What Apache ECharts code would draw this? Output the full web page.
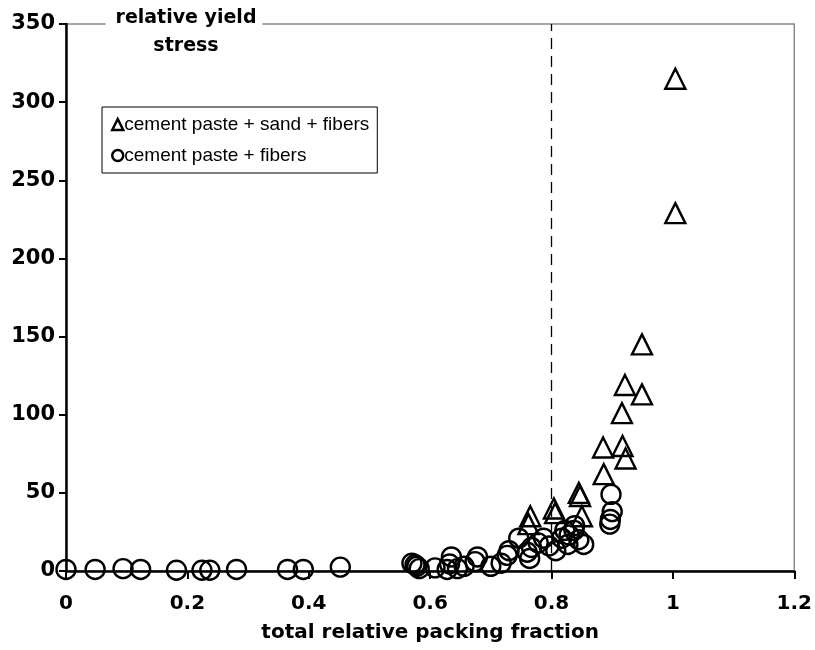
<!DOCTYPE html>
<html><head><meta charset="utf-8">
<script src="https://cdn.jsdelivr.net/npm/echarts@6/dist/echarts.min.js"></script>
<style>html,body{margin:0;padding:0;background:#fff}#c{width:815px;height:650px}</style>
</head><body><div id="c"></div>
<script>
const sandFibers = [
  [0.765, 35], [0.762, 30], [0.804, 40], [0.806, 37], [0.845, 50], [0.847, 48],
  [0.850, 35], [0.886, 62], [0.885, 79], [0.917, 80], [0.922, 72], [0.916, 101],
  [0.921, 119], [0.949, 145], [0.949, 113], [1.004, 229], [1.004, 315]
];
const pasteFibers = [
  [0, 1], [0.048, 1], [0.094, 1.5], [0.123, 1], [0.182, 0.5], [0.224, 0.5], [0.237, 0.5],
  [0.281, 1], [0.365, 1], [0.391, 1], [0.452, 2.5],
  [0.57, 5], [0.575, 4], [0.578, 3], [0.582, 1.5], [0.608, 2], [0.628, 1], [0.632, 4.5],
  [0.635, 9], [0.645, 1.5], [0.656, 3], [0.674, 6], [0.678, 9], [0.70, 3], [0.717, 5],
  [0.727, 10], [0.73, 13], [0.746, 21], [0.76, 12], [0.764, 8], [0.767, 15], [0.778, 18],
  [0.787, 21], [0.796, 16], [0.807, 13], [0.817, 21], [0.822, 26], [0.827, 17], [0.829, 23],
  [0.837, 26], [0.838, 29], [0.845, 20], [0.853, 17], [0.898, 49], [0.9, 38], [0.897, 33], [0.896, 30]
];
const seriesNames = ['cement paste + sand + fibers', 'cement paste + fibers'];
const yTitle = 'relative yield\nstress';
const xTitle = 'total relative packing fraction';
const threshold = 0.8;

const boldFont = 'DejaVu Sans, sans-serif';
const legendFont = 'Liberation Sans, Arial, sans-serif';
const chart = echarts.init(document.getElementById('c'));
chart.setOption({
  animation: false,
  backgroundColor: '#fff',
  title: {
    text: yTitle, left: 176, top: 4, textAlign: 'center',
    backgroundColor: '#fff', padding: [0, 6, 0, 10],
    textStyle: { fontFamily: boldFont, fontWeight: 'bold', fontSize: 19, lineHeight: 28, color: '#000' }
  },
  legend: {
    orient: 'vertical', left: 102, top: 107,
    data: seriesNames,
    backgroundColor: '#fff', borderColor: '#000', borderWidth: 1,
    padding: [8, 8, 8, 9], itemGap: 12, itemWidth: 11, itemHeight: 11,
    textStyle: { fontFamily: legendFont, fontSize: 19, color: '#000', padding: [0, 0, 0, -4] },
    itemStyle: { borderWidth: 2.5 }
  },
  grid: { left: 66, right: 19, top: 24, bottom: 79, show: true, borderColor: '#8a8a8a', borderWidth: 1.5 },
  xAxis: {
    type: 'value', min: 0, max: 1.2, interval: 0.2,
    name: xTitle, nameLocation: 'middle', nameGap: 52,
    nameTextStyle: { fontFamily: boldFont, fontWeight: 'bold', fontSize: 20, color: '#000' },
    axisLine: { lineStyle: { color: '#000', width: 2.5 } },
    axisTick: { inside: false, length: 8, lineStyle: { color: '#000', width: 2 } },
    axisLabel: { margin: 23, fontFamily: boldFont, fontWeight: 'bold', fontSize: 20, color: '#000' },
    splitLine: { show: false }
  },
  yAxis: {
    type: 'value', min: 0, max: 350, interval: 50,
    axisLine: { show: true, lineStyle: { color: '#000', width: 2.5 } },
    axisTick: { show: true, inside: false, length: 7, lineStyle: { color: '#000', width: 2 } },
    axisLabel: { margin: 11, fontFamily: boldFont, fontWeight: 'bold', fontSize: 21, color: '#000' },
    splitLine: { show: false }
  },
  series: [
    {
      name: seriesNames[0], type: 'scatter', data: sandFibers, symbol: 'triangle', symbolSize: 20,
      itemStyle: { color: 'transparent', borderColor: '#000', borderWidth: 2.4, opacity: 1 },
      markLine: {
        silent: true, symbol: 'none', label: { show: false },
        lineStyle: { color: '#000', type: [11, 7], width: 1.3 },
        data: [{ xAxis: threshold }]
      }
    },
    {
      name: seriesNames[1], type: 'scatter', data: pasteFibers, symbol: 'circle', symbolSize: 19,
      itemStyle: { color: 'transparent', borderColor: '#000', borderWidth: 2.4, opacity: 1 }
    }
  ]
});
</script></body></html>
